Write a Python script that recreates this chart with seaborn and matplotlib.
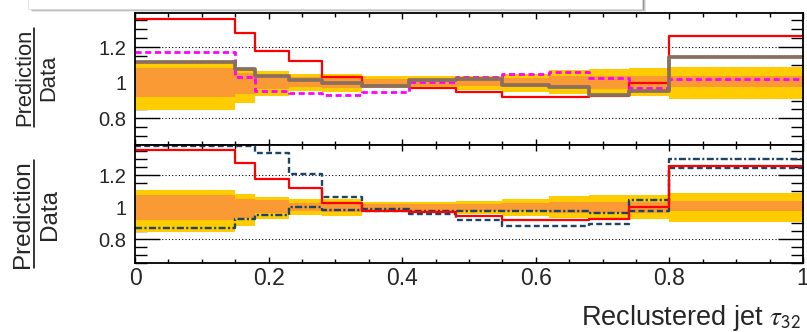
import numpy as np
import pandas as pd
import matplotlib
matplotlib.use("Agg")
import matplotlib.pyplot as plt
import seaborn as sns
from matplotlib.patches import Rectangle
from matplotlib.lines import Line2D
from matplotlib.ticker import MultipleLocator, FixedLocator, FuncFormatter

sns.set_theme(style="white")
plt.rcParams['font.family'] = ['Liberation Sans', 'DejaVu Sans']
plt.rcParams['mathtext.fontset'] = 'stix'

# Bin edges of the reclustered jet tau_32 distribution
edges = [0.0, 0.15, 0.18, 0.23, 0.28, 0.34, 0.41, 0.48, 0.55, 0.62, 0.68, 0.74, 0.80, 1.0]

# Data uncertainty bands (ratio = 1 +/- unc)
band_outer_hi = [1.11, 1.085, 1.065, 1.05, 1.05, 1.035, 1.035, 1.04, 1.05, 1.07, 1.075, 1.08, 1.09]
band_outer_lo = [0.845, 0.885, 0.925, 0.955, 0.945, 0.97, 0.965, 0.96, 0.945, 0.935, 0.93, 0.925, 0.91]
band_inner_hi = [1.08, 1.055, 1.045, 1.03, 1.03, 1.02, 1.02, 1.02, 1.025, 1.035, 1.035, 1.035, 1.04]
band_inner_lo = [0.922, 0.935, 0.965, 0.975, 0.97, 0.98, 0.98, 0.98, 0.975, 0.965, 0.965, 0.965, 0.975]

# Prediction / data ratios
ratio_red = [1.36, 1.28, 1.18, 1.12, 1.03, 0.98, 0.97, 0.945, 0.92, 0.92, 0.925, 1.0, 1.26]
ratio_brown = [1.115, 1.077, 1.038, 1.015, 0.997, 0.98, 1.015, 1.02, 0.987, 0.978, 0.931, 0.955, 1.143]
ratio_magenta = [1.17, 1.03, 0.953, 0.94, 0.931, 0.95, 1.006, 1.034, 1.049, 1.058, 1.025, 0.972, 1.022]
ratio_blue_dash = [1.45, 1.45, 1.34, 1.207, 1.066, 0.975, 0.961, 0.92, 0.882, 0.882, 0.897, 0.975, 1.244]
ratio_blue_dashdot = [0.872, 0.93, 0.955, 1.002, 0.986, 0.99, 0.98, 0.98, 0.98, 0.98, 0.965, 1.048, 1.30]

xticks = [0.0, 0.2, 0.4, 0.6, 0.8, 1.0]
xtick_labels = ["0", "0.2", "0.4", "0.6", "0.8", "1"]
yticks = [0.8, 1.0, 1.2]
ytick_labels = ["0.8", "1", "1.2"]

YLIM = (0.65, 1.39)
YELLOW = "#ffcc00"
ORANGE = "#f99a35"

W, H = 807, 332
fig = plt.figure(figsize=(W / 100, H / 100), dpi=100)


def px_axes(x0, y0, x1, y1):
    return fig.add_axes([x0 / W, 1 - y1 / H, (x1 - x0) / W, (y1 - y0) / H])


ax_top = px_axes(135, 13.3, 803, 145)
ax_bot = px_axes(135, 145, 803, 263.3)


def band(ax, lo, hi, color):
    ax.fill_between(edges, list(lo) + [lo[-1]], list(hi) + [hi[-1]],
                    step="post", color=color, lw=0, zorder=1)


def step_line(ax, vals, **kw):
    # out-of-range bins are drawn on the frame edge
    v = np.clip(np.asarray(vals, float), YLIM[0] + 0.002, YLIM[1] - 0.004)
    df = pd.DataFrame({"x": edges, "y": np.append(v, v[-1])})
    sns.lineplot(data=df, x="x", y="y", ax=ax, drawstyle="steps-post",
                 estimator=None, sort=False, legend=False, **kw)


for ax in (ax_top, ax_bot):
    band(ax, band_outer_lo, band_outer_hi, YELLOW)
    band(ax, band_inner_lo, band_inner_hi, ORANGE)
    for yv in (0.8, 1.2):
        ax.axhline(yv, color="black", lw=0.8, ls=(0, (1, 2)), zorder=2)

# Upper ratio panel
step_line(ax_top, ratio_red, color="#ff0000", lw=1.6, zorder=3)
step_line(ax_top, ratio_magenta, color="#ff00ff", lw=2.0, linestyle=(0, (2.2, 1.3)), zorder=4)
step_line(ax_top, ratio_brown, color="#8b6f5e", lw=2.7, zorder=5)

# Lower ratio panel
step_line(ax_bot, ratio_blue_dash, color="#1b4466", lw=1.7, linestyle=(0, (2.5, 1.4)), zorder=3)
step_line(ax_bot, ratio_blue_dashdot, color="#1b4466", lw=1.7, linestyle=(0, (3.0, 1.0, 0.9, 1.0)), zorder=4)
step_line(ax_bot, ratio_red, color="#ff0000", lw=1.6, zorder=5)

for ax in (ax_top, ax_bot):
    ax.set_xlim(0, 1)
    ax.set_ylim(*YLIM)
    ax.set_xlabel("")
    ax.set_ylabel("")
    ax.set_facecolor("white")
    for s in ax.spines.values():
        s.set_visible(True)
        s.set_color("black")
        s.set_linewidth(1.3)
        s.set_zorder(10)
    ax.xaxis.set_major_locator(FixedLocator(xticks))
    ax.xaxis.set_minor_locator(MultipleLocator(0.05))
    ax.yaxis.set_major_locator(FixedLocator(yticks))
    ax.yaxis.set_minor_locator(MultipleLocator(0.05))
    ax.yaxis.set_major_formatter(FuncFormatter(lambda v, p: ytick_labels[yticks.index(round(v, 2))]
                                               if round(v, 2) in yticks else ""))
    ax.tick_params(axis="both", which="both", direction="in", top=True, right=True,
                   bottom=True, left=True, color="black", width=1.0)
    ax.tick_params(axis="y", which="major", length=18, labelsize=14.5, pad=6)
    ax.tick_params(axis="y", which="minor", length=8.6)
    ax.tick_params(axis="x", which="major", length=4.5)
    ax.tick_params(axis="x", which="minor", length=2.8)

ax_top.tick_params(axis="x", labelbottom=False)
ax_bot.set_xticks(xticks)
ax_bot.set_xticklabels(xtick_labels)
ax_bot.tick_params(axis="x", labelsize=16.5, pad=3)

# x-axis title
fig.text(801 / W, 1 - 325 / H, r"Reclustered jet $\tau_{\mathsf{32}}$",
         ha="right", va="baseline", fontsize=19.5)


# Prediction / Data fraction labels
def frac_label(xn, xd, yc, y0, y1, xbar, fs):
    fig.text(xn / W, 1 - yc / H, "Prediction", rotation=90, ha="center",
             va="center", fontsize=fs)
    fig.text(xd / W, 1 - yc / H, "Data", rotation=90, ha="center",
             va="center", fontsize=fs)
    fig.add_artist(Line2D([xbar / W, xbar / W], [1 - y0 / H, 1 - y1 / H],
                          color="black", lw=1.1))


frac_label(25.0, 48.5, 77.5, 28, 127, 33.5, 15.8)
frac_label(23.0, 50.5, 214, 160, 268, 33.5, 17.5)

# Legend frame edge with drop shadow along the top
for off, a in ((3.5, 0.10), (2.5, 0.15), (1.5, 0.22)):
    fig.add_artist(Rectangle((28 / W + off / W, 1 - (8.5 + off) / H),
                             (642 - 28) / W, (8.5 + off) / H + 0.01,
                             transform=fig.transFigure, facecolor="black",
                             alpha=a, lw=0, zorder=20))
fig.add_artist(Rectangle((28 / W, 1 - 8.5 / H), (642 - 28) / W, 8.5 / H + 0.01,
                         transform=fig.transFigure, facecolor="white",
                         edgecolor="#dddddd", lw=0.5, zorder=21))

fig.savefig("out.png", dpi=100)
